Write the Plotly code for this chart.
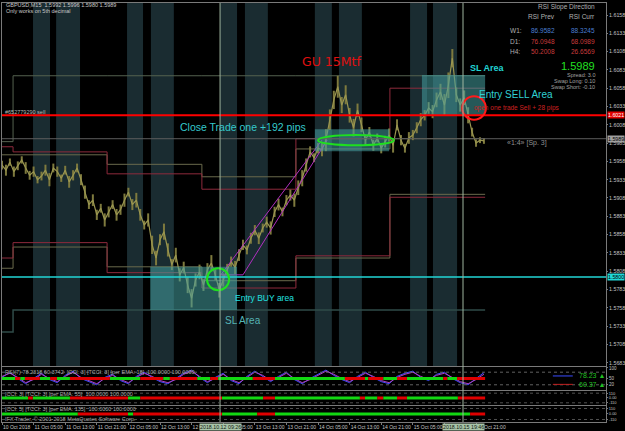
import plotly.graph_objects as go

# ---------------- data ----------------
hours = list(range(123))
price = [1.5953,1.5946,1.5957,1.5944,1.5952,1.5960,1.5949,1.5939,1.5944,1.5933,
         1.5938,1.5946,1.5933,1.5949,1.5944,1.5935,1.5946,1.5930,1.5939,1.5949,
         1.5933,1.5916,1.5899,1.5905,1.5885,1.5894,1.5878,1.5889,1.5899,1.5885,
         1.5892,1.5905,1.5916,1.5899,1.5905,1.5885,1.5871,1.5878,1.5844,1.5826,
         1.5851,1.5862,1.5837,1.5817,1.5830,1.5803,1.5813,1.5789,1.5771,1.5796,
         1.5807,1.5789,1.5810,1.5819,1.5803,1.5782,1.5796,1.5810,1.5821,1.5813,
         1.5830,1.5844,1.5837,1.5853,1.5864,1.5853,1.5867,1.5875,1.5867,1.5889,
         1.5899,1.5889,1.5905,1.5912,1.5905,1.5922,1.5935,1.5953,1.5971,1.5963,
         1.5976,1.5974,1.5987,1.6015,1.6042,1.6060,1.6035,1.6049,1.6021,1.6004,
         1.6028,1.6008,1.5987,1.5998,1.5980,1.5990,1.5976,1.5985,1.5994,1.5980,
         1.6008,1.5987,1.5976,1.5990,1.5994,1.6004,1.6015,1.6021,1.6031,1.6026,
         1.6042,1.6053,1.6035,1.6062,1.6099,1.6049,1.6035,1.6045,1.6021,1.5998,
         1.5983,1.5987,1.5986]
# hourly high-low range, pips
range_pips = [12,15,10,14,12,10,16,12,14,10, 12,15,18,12,14,10,12,16,14,12,
              15,18,12,16,14,12,18,15,12,16, 14,18,12,15,20,16,12,18,25,20,
              15,22,18,15,20,18,16,22,25,18, 20,16,18,22,15,20,18,16,14,18,
              16,14,12,15,14,16,12,15,18,14, 16,12,14,15,18,20,22,18,15,12,
              14,18,30,28,25,30,22,26,20,24, 18,20,16,14,15,12,14,16,18,20,
              15,14,12,16,14,15,18,14,16,18, 20,22,30,35,25,20,18,20,22,12,
              10,8,8]

rsi_hours = list(range(0, 123, 2))
rsi_slow = [60,75,55,30,45,70,50,35,60,80, 55,40,25,50,65,45,30,55,75,60,
            40,30,45,70,85,60,35,50,70,45, 30,55,80,65,40,55,75,50,30,45,
            65,85,70,50,35,55,75,60,40,30, 55,70,80,60,45,65,75,55,35,25,
            45,70]
rsi_fast = [55,80,50,25,50,75,45,30,65,85, 50,35,20,55,70,40,25,60,80,55,
            35,25,50,75,90,55,30,55,75,40, 25,60,85,60,35,60,80,45,25,50,
            70,90,65,45,30,60,80,55,35,25, 60,75,85,55,40,70,80,50,30,20,
            50,78]

# multi-timeframe channel steps
seg_hours = [0, 2.8, 26.6, 50.6, 74.4, 98.2, 122.3]
upper_outer = [1.5985, 1.6075, 1.6075, 1.6075, 1.6075, 1.6075]
upper_maroon = [1.5978, 1.5971, 1.5941, 1.5920, 1.5989, 1.6058]
upper_olive = [1.5967, 1.5967, 1.5954, 1.5937, 1.5975, 1.5989]
lower_maroon = [1.5826, 1.5847, 1.5806, 1.5785, 1.5829, 1.5909]
lower_olive = [1.5812, 1.5841, 1.5814, 1.5795, 1.5826, 1.5913]
lower_outer = [1.5725, 1.5755, 1.5755, 1.5755, 1.5755, 1.5755]

# session bands (hours)
band_starts = [7.85, 13.7, 31.65, 37.7, 55.2, 61.5, 79.2, 85.3, 103.3, 109.1]
band_ends = [12.15, 19.75, 35.7, 43.5, 59.5, 67.3, 83.5, 91.1, 107.6, 115.2]

sell_level = 1.6021
buy_level = 1.5800
bid_level = 1.5989
cursor_hours = [55.2, 116.7]
cursor_labels = ["2018.10.12 09:26", "2018.10.15 19:46"]

# zones: (h0, h1, p0, p1)
buy_zone = [37.5, 59.5, 1.5755, 1.5814]
close_zone = [79.2, 98.0, 1.5972, 1.6002]
sl_zone = [106.3, 122.3, 1.6021, 1.6076]

trend_a_h = [55.4, 81.0]
trend_a_p = [1.5803, 1.5987]
trend_b_h = [55.4, 61.0, 82.3]
trend_b_p = [1.5803, 1.5803, 1.5987]

# marks: (center h, center p, half-width h, half-height p)
entry_circle = [54.7, 1.5797, 2.8, 0.0015]
close_ellipse = [89.6, 1.5987, 9.6, 0.0007]
sell_circle = [119.5, 1.6031, 3.0, 0.0016]

rsi_state_hours = [0, 3.3, 4.6, 5.8, 9.6, 12.2, 13.9, 17.2, 27.3, 35.0, 40.8, 42.5, 49.4,
                   52.7, 54.7, 63.5, 69.1, 86.8, 91.9, 92.7, 96.5, 100.0, 102.5, 111.7,
                   112.7, 115.2, 122.3]
cci1_state_hours = [0, 6.6, 7.8, 17.2, 31.9, 35.0, 55.7, 66.1, 69.1, 90.6, 91.9, 95.0,
                    96.5, 100.0, 102.5, 115.4, 122.3]
cci2_state_hours = [0, 19.2, 31.9, 33.2, 55.7, 64.6, 69.1, 118.5, 122.3]

price_ticks = [1.6158, 1.6133, 1.6108, 1.6083, 1.6058, 1.6033, 1.6008, 1.5983, 1.5958,
               1.5933, 1.5908, 1.5883, 1.5858, 1.5833, 1.5808, 1.5783, 1.5758, 1.5733,
               1.5708, 1.5683]
time_ticks = [0, 8, 16, 24, 32, 40, 48, 56, 64, 72, 80, 88, 96, 104, 112, 120]
time_labels = ["10 Oct 2018", "11 Oct 05:00", "11 Oct 13:00", "11 Oct 21:00",
               "12 Oct 05:00", "12 Oct 13:00", "12 Oct 21:00", "13 Oct 05:00",
               "13 Oct 13:00", "13 Oct 21:00", "14 Oct 05:00", "14 Oct 13:00",
               "14 Oct 21:00", "15 Oct 05:00", "15 Oct 13:00", "15 Oct 21:00"]

rsi_table_rows = ["W1:", "D1:", "H4:"]
rsi_prev = ["86.9582", "76.0948", "50.2008"]
rsi_curr = ["88.3245", "68.0989", "26.6569"]
rsi_row_colors = ["#4a7fd0", "#c83c3c", "#c83c3c"]

# ---------------- figure ----------------
FONT = "Liberation Sans"
GREEN = "#12d812"
RED = "#e00000"
fig = go.Figure()

def stair(levels, color, width=1):
    fig.add_trace(go.Scatter(x=seg_hours, y=levels + [levels[-1]], mode="lines",
                             line=dict(color=color, width=width, shape="hv"),
                             xaxis="x", yaxis="y", hoverinfo="skip"))

stair(upper_outer, "#55624f")
stair(upper_olive, "#6a6a4c")
stair(upper_maroon, "#8e2a3c")
stair(lower_olive, "#6a6a4c")
stair(lower_maroon, "#8e2a3c")
stair(lower_outer, "#2f4b48", 1.5)

# price bars (high-low) and closes
wx, wy = [], []
for h, p, r in zip(hours, price, range_pips):
    wx += [h, h, None]
    wy += [p - r * 0.00005, p + r * 0.00005, None]
fig.add_trace(go.Scatter(x=wx, y=wy, mode="lines", line=dict(color="#7e7a3e", width=2),
                         xaxis="x", yaxis="y", hoverinfo="skip"))
fig.add_trace(go.Scatter(x=hours, y=price, mode="lines",
                         line=dict(color="#9a9650", width=1.2), xaxis="x", yaxis="y"))
fig.add_trace(go.Scatter(x=trend_a_h, y=trend_a_p, mode="lines",
                         line=dict(color="#b02fc0", width=1), xaxis="x", yaxis="y"))
fig.add_trace(go.Scatter(x=trend_b_h, y=trend_b_p, mode="lines",
                         line=dict(color="#b02fc0", width=1), xaxis="x", yaxis="y"))

# RSI
fig.add_trace(go.Scatter(x=rsi_hours, y=rsi_fast, mode="lines",
                         line=dict(color="#3a4cff", width=1), xaxis="x2", yaxis="y2"))
fig.add_trace(go.Scatter(x=rsi_hours, y=rsi_slow, mode="lines",
                         line=dict(color="#b040c0", width=1), xaxis="x2", yaxis="y2"))

def state_bar(bounds, level, xa, ya):
    for col_idx, color in enumerate([GREEN, RED]):
        xs, ys = [], []
        for i in range(len(bounds) - 1):
            if i % 2 == col_idx:
                xs += [bounds[i], bounds[i + 1], None]
                ys += [level, level, None]
        fig.add_trace(go.Scatter(x=xs, y=ys, mode="lines", line=dict(color=color, width=3),
                                 xaxis=xa, yaxis=ya, hoverinfo="skip"))

state_bar(rsi_state_hours, 50, "x2", "y2")
state_bar(cci1_state_hours, 0, "x3", "y3")
state_bar(cci2_state_hours, 0, "x4", "y4")

shapes = []
for s, e in zip(band_starts, band_ends):
    shapes.append(dict(type="rect", xref="x", yref="y domain", x0=s, x1=e, y0=0, y1=1,
                       fillcolor="#1a2c31", line_width=0, layer="below"))
for z in [buy_zone, close_zone, sl_zone]:
    shapes.append(dict(type="rect", xref="x", yref="y", x0=z[0], x1=z[1], y0=z[2], y1=z[3],
                       fillcolor="rgba(70,160,160,0.55)", line_width=0, layer="above"))
shapes.append(dict(type="line", xref="x domain", yref="y", x0=0, x1=1, y0=bid_level, y1=bid_level,
                   line=dict(color="#5c5c5c", width=1)))
shapes.append(dict(type="line", xref="x domain", yref="y", x0=0, x1=1, y0=buy_level, y1=buy_level,
                   line=dict(color="#22d6d6", width=1.5)))
shapes.append(dict(type="line", xref="x domain", yref="y", x0=0, x1=1, y0=sell_level, y1=sell_level,
                   line=dict(color="#ff0000", width=2)))
for c, col in [(entry_circle, "#1ee01e"), (close_ellipse, "#1ee01e"), (sell_circle, "#ff1a1a")]:
    shapes.append(dict(type="circle", xref="x", yref="y", x0=c[0] - c[2], x1=c[0] + c[2],
                       y0=c[1] - c[3], y1=c[1] + c[3], line=dict(color=col, width=2)))
for h in cursor_hours:
    shapes.append(dict(type="line", xref="x", yref="paper", x0=h, x1=h, y0=0, y1=1,
                       line=dict(color="#9fb59f", width=1)))
for lv in [80, 20]:
    shapes.append(dict(type="line", xref="x2 domain", yref="y2", x0=0, x1=1, y0=lv, y1=lv,
                       line=dict(color="#606060", width=1, dash="dot")))
for ya in ["y3", "y4"]:
    for lv in [110, -110]:
        shapes.append(dict(type="line", xref="x domain", yref=ya, x0=0, x1=1, y0=lv, y1=lv,
                           line=dict(color="#505050", width=1, dash="dot")))
# rsi legend lines
shapes.append(dict(type="line", xref="paper", yref="y2", x0=0.912, x1=0.945, y0=62, y1=62,
                   line=dict(color="#3a4cff", width=1)))
shapes.append(dict(type="line", xref="paper", yref="y2", x0=0.912, x1=0.945, y0=22, y1=22,
                   line=dict(color="#c02020", width=1)))

ann = []
def txt(x, y, text, color, size, xref="x", yref="y", xanchor="left", bold=False, bg=None, family=FONT):
    d = dict(x=x, y=y, xref=xref, yref=yref, text=("<b>%s</b>" % text) if bold else text,
             showarrow=False, xanchor=xanchor, yanchor="middle",
             font=dict(color=color, size=size, family=family))
    if bg:
        d["bgcolor"] = bg
        d["borderpad"] = 0
    ann.append(d)

txt(83.5, 1.6094, "GU 15Mtf", "#e01010", 12.5, xanchor="center", family="DejaVu Sans")
txt(44.6, 1.6005, "Close Trade one +192 pips", "#35c8cc", 10.5)
txt(118.0, 1.6086, "SL Area", "#20d4d4", 9, bold=True)
txt(120.3, 1.6049, "Entry SELL Area", "#30d0d4", 10)
txt(119.0, 1.6031, "open one trade Sell + 28 pips", "#d02020", 6.5)
txt(58.5, 1.5771, "Entry BUY area", "#20e0e0", 8.5)
txt(56.0, 1.5741, "SL Area", "#55b4b4", 10)
txt(127.3, 1.5983, "«1:4» [Sp. 3]", "#909090", 7)
txt(0.3, 1.6025, "#652779290 sell", "#b8b8b8", 5.5)

txt(0.003, 0.9952, "GBPUSD,M15  1.5992 1.5996 1.5980 1.5989", "#c8c8c8", 5.5, xref="paper", yref="paper")
txt(0.003, 0.981, "Only works on 5th decimal", "#c8c8c8", 5.5, xref="paper", yref="paper")

txt(0.985, 0.9905, "RSI Slope Direction", "#b0b0b0", 6.5, xref="paper", yref="paper", xanchor="right")
txt(0.919, 0.9666, "RSI Prev", "#b0b0b0", 6.5, xref="paper", yref="paper", xanchor="right")
txt(0.985, 0.9666, "RSI Curr", "#b0b0b0", 6.5, xref="paper", yref="paper", xanchor="right")
for i, (r, a, b, col) in enumerate(zip(rsi_table_rows, rsi_prev, rsi_curr, rsi_row_colors)):
    yy = 0.9332 - i * 0.0239
    txt(0.8377, yy, r, "#b0b0b0", 6.5, xref="paper", yref="paper")
    txt(0.919, yy, a, col, 6.5, xref="paper", yref="paper", xanchor="right")
    txt(0.985, yy, b, col, 6.5, xref="paper", yref="paper", xanchor="right")
txt(0.985, 0.8496, "1.5989", "#22e022", 11, xref="paper", yref="paper", xanchor="right")
txt(0.985, 0.8282, "Spread: 3.0", "#a0a0a0", 5.5, xref="paper", yref="paper", xanchor="right")
txt(0.985, 0.8138, "Swap Long: 0.10", "#a0a0a0", 5.5, xref="paper", yref="paper", xanchor="right")
txt(0.985, 0.7995, "Swap Short: -0.10", "#a0a0a0", 5.5, xref="paper", yref="paper", xanchor="right")

# right price markers
txt(1.002, sell_level, "1.6021", "#ffffff", 5.3, xref="paper", bg="#e00000")
txt(1.002, bid_level, "1.5989", "#000000", 5.3, xref="paper", bg="#a0a0a0")
txt(1.002, buy_level, "1.5800", "#000000", 5.3, xref="paper", bg="#20d8d8")

txt(0.952, 62, "78.23 ▲", "#22c022", 7, xref="paper", yref="y2")
txt(0.952, 22, "60.37 ▲", "#22c022", 7, xref="paper", yref="y2")

txt(0.002, 0.1193, "RSI(7) 78.2318 60.3742  [CCI: 3] [TCCI: 3] [per EMA: 18]  100.0000 100.0000",
    "#a8a8a8", 5.5, xref="paper", yref="paper")
txt(0.002, 0.0668, "[CCI: 3] [TCCI: 3] [per EMA: 55]  100.0000 100.0000",
    "#a8a8a8", 5.5, xref="paper", yref="paper")
txt(0.002, 0.031, "[CCI: 5] [TCCI: 3] [per EMA: 135]  100.0000 100.0000",
    "#a8a8a8", 5.5, xref="paper", yref="paper")
txt(0.002, 0.0072, "IFX Trader, © 2001-2018 MetaQuotes Software Corp.",
    "#a8a8a8", 5.5, xref="paper", yref="paper")

for h, lab in zip(cursor_hours, cursor_labels):
    txt(h, -0.0125, lab, "#102010", 5.3, yref="paper", xanchor="center", bg="#a8c4a8")

axis_common = dict(showgrid=False, zeroline=False, showline=True, mirror=True,
                   linecolor="#7a7a7a", linewidth=1, automargin=False)
tick_font = dict(color="#c4c4c4", size=5.3, family=FONT)
xr = [0, 152.9]
fig.update_layout(
    width=625, height=431,
    margin=dict(l=2, r=19, t=3, b=9),
    paper_bgcolor="#000000", plot_bgcolor="#000000",
    showlegend=False,
    shapes=shapes, annotations=ann,
    xaxis=dict(domain=[0, 1], range=xr, anchor="y", showticklabels=False, **axis_common),
    xaxis2=dict(domain=[0, 1], range=xr, anchor="y2", showticklabels=False, **axis_common),
    xaxis3=dict(domain=[0, 1], range=xr, anchor="y3", showticklabels=False, **axis_common),
    xaxis4=dict(domain=[0, 1], range=xr, anchor="y4", tickvals=time_ticks, ticktext=time_labels,
                ticks="outside", ticklen=2, tickcolor="#7a7a7a", tickangle=0,
                tickfont=dict(color="#c4c4c4", size=5, family=FONT),
                ticklabelposition="outside right", **axis_common),
    yaxis=dict(domain=[0.1337, 1], range=[1.56785, 1.61744], side="right", anchor="x",
               tickvals=price_ticks, ticktext=["%.4f" % v for v in price_ticks],
               ticks="outside", ticklen=1, tickcolor="#7a7a7a", tickfont=tick_font, **axis_common),
    yaxis2=dict(domain=[0.0764, 0.1313], range=[-4.8, 104.8], side="right", anchor="x2",
                tickvals=[100, 50, 20], ticktext=["100", "50", "20"], ticks="outside", ticklen=1,
                tickcolor="#7a7a7a", tickfont=dict(color="#c4c4c4", size=4.5, family=FONT), **axis_common),
    yaxis3=dict(domain=[0.0406, 0.0740], range=[-160, 160], side="right", anchor="x3",
                tickvals=[110, 0, -110], ticktext=["110", "0.00", "-110"], ticks="outside", ticklen=1,
                tickcolor="#7a7a7a", tickfont=dict(color="#c4c4c4", size=4, family=FONT), **axis_common),
    yaxis4=dict(domain=[0, 0.0382], range=[-160, 160], side="right", anchor="x4",
                tickvals=[110, 0, -110], ticktext=["110", "0.00", "-110"], ticks="outside", ticklen=1,
                tickcolor="#7a7a7a", tickfont=dict(color="#c4c4c4", size=4, family=FONT), **axis_common),
)

fig.write_html("out.html")
